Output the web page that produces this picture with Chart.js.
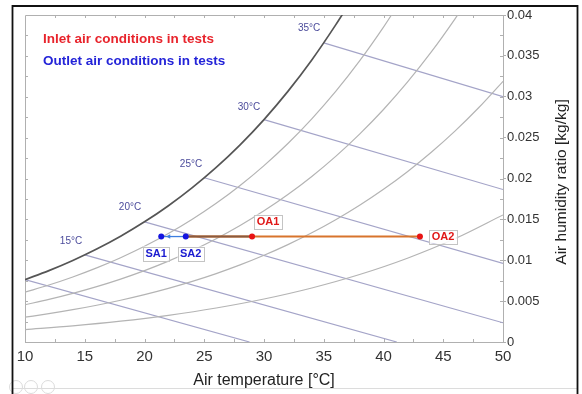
<!DOCTYPE html>
<html>
<head>
<meta charset="utf-8">
<script src="https://cdn.jsdelivr.net/npm/chart.js@4.4.1/dist/chart.umd.min.js"></script>
<style>
  html, body { margin: 0; padding: 0; background: #fff; }
  canvas { display: block; }
</style>
</head>
<body>
<canvas id="psychro" width="582" height="394"></canvas>
<script>
// axis ticks
const tempTickLabels = ['10', '15', '20', '25', '30', '35', '40', '45', '50'];
const humTickLabels = ['0', '0.005', '0.01', '0.015', '0.02', '0.025', '0.03', '0.035', '0.04'];

// relative humidity curves (saturation, 80, 60, 40, 20 %)
const satT = [10, 12, 14, 16, 18, 20, 22, 24, 26, 28, 30, 32, 34, 36, 37];
const satW = [0.007632, 0.008732, 0.009973, 0.011369, 0.012938, 0.014699, 0.016673, 0.018884,
              0.021358, 0.024122, 0.027210, 0.030655, 0.034500, 0.038789, 0.041095];
const rh80T = [10, 12, 14, 16, 18, 20, 22, 24, 26, 28, 30, 32, 34, 36, 38, 40, 41];
const rh80W = [0.006091, 0.006966, 0.007953, 0.009062, 0.010308, 0.011704, 0.013267, 0.015016, 0.016970,
               0.019149, 0.021579, 0.024285, 0.027297, 0.030649, 0.034377, 0.038512, 0.040751];
const rh60T = [10, 12, 14, 16, 18, 20, 22, 24, 26, 28, 30, 32, 34, 36, 38, 40, 42, 44, 46, 47];
const rh60W = [0.004557, 0.005210, 0.005946, 0.006772, 0.007699, 0.008737, 0.009898, 0.011194, 0.012641, 0.014252,
               0.016045, 0.018037, 0.020250, 0.022707, 0.025431, 0.028444, 0.031783, 0.035477, 0.039563, 0.041752];
const rh40T = [10, 12, 14, 16, 18, 20, 22, 24, 26, 28, 30, 32, 34, 36, 38, 40, 42, 44, 46, 48, 50];
const rh40W = [0.003031, 0.003464, 0.003951, 0.004498, 0.005111, 0.005797, 0.006564, 0.007418, 0.008371, 0.009429, 0.010605,
               0.011910, 0.013355, 0.014956, 0.016726, 0.018678, 0.020834, 0.023210, 0.025828, 0.028712, 0.031885];
const rh20T = [10, 14, 18, 22, 26, 30, 34, 38, 42, 46, 50];
const rh20W = [0.001512, 0.001969, 0.002545, 0.003265, 0.004157, 0.005258, 0.006607, 0.008252, 0.010245, 0.012651, 0.015544];

// wet-bulb lines
const wbStartT = [10, 15, 20, 25, 30, 35];
const wbStartW = [0.00763, 0.010651, 0.014699, 0.020087, 0.02721, 0.036587];
const wbEndT = [28.79, 41.11, 50, 50, 50, 50];
const wbEndW = [0, 0, 0.00235, 0.009609, 0.018649, 0.030005];
const wbLabels = ['15°C', '20°C', '25°C', '30°C', '35°C'];
const wbLabelT = [13.85, 18.79, 23.89, 28.74, 33.77];
const wbLabelW = [0.01234, 0.01649, 0.02175, 0.02874, 0.03841];

// test points
const testNames = ['SA1', 'SA2', 'OA1', 'OA2'];
const testT = [21.4, 23.45, 29.0, 43.05];
const testW = [0.0129, 0.0129, 0.0129, 0.0129];

const pts = (xs, ys) => xs.map((x, i) => ({ x, y: ys[i] }));
const FONT = "'Liberation Sans', Arial, Helvetica, sans-serif";
Chart.defaults.font.family = FONT;

const curve = (xs, ys, color, width) => ({
    data: pts(xs, ys), showLine: true, borderColor: color, borderWidth: width,
    pointRadius: 0, cubicInterpolationMode: 'monotone', fill: false
});

const wbDatasets = wbStartT.map((t, i) => ({
    data: [{ x: t, y: wbStartW[i] }, { x: wbEndT[i], y: wbEndW[i] }],
    showLine: true, borderColor: '#a4a4c8', borderWidth: 1.2, pointRadius: 0
}));

const labelBox = { SA1: [-5, 17, '#1a1ad0'], SA2: [5, 17, '#1a1ad0'], OA1: [16, -15, '#e01818'], OA2: [23, 0, '#e01818'] };

const decor = {
    id: 'decor',
    beforeDraw(chart) {
        const c = chart.ctx;
        c.save();
        c.fillStyle = '#fff';
        c.fillRect(0, 0, chart.width, chart.height);
        c.restore();
    },
    beforeDatasetsDraw(chart) {
        const { ctx: c, chartArea: a, scales: { x, y } } = chart;
        c.save();
        c.strokeStyle = '#b0b0b0';
        c.lineWidth = 1;
        c.beginPath();
        c.moveTo(a.left + 0.5, a.bottom);
        c.lineTo(a.left + 0.5, a.top + 0.5);
        c.lineTo(a.right, a.top + 0.5);
        for (let t = 12.5; t < 50; t += 2.5) {
            const px = Math.round(x.getPixelForValue(t)) + 0.5;
            c.moveTo(px, a.bottom); c.lineTo(px, a.bottom - 3);
            c.moveTo(px, a.top); c.lineTo(px, a.top + 3);
        }
        for (let k = 1; k < 16; k++) {
            const py = Math.round(y.getPixelForValue(k * 0.0025)) + 0.5;
            c.moveTo(a.left, py); c.lineTo(a.left + 3, py);
            c.moveTo(a.right, py); c.lineTo(a.right - 3, py);
        }
        c.stroke();
        c.restore();
    },
    afterDatasetsDraw(chart) {
        const { ctx: c, scales: { x, y } } = chart;
        c.save();
        // wet-bulb labels
        c.font = '10px ' + FONT;
        c.fillStyle = '#4b4b9b';
        c.textAlign = 'center';
        c.textBaseline = 'middle';
        wbLabels.forEach((s, i) => c.fillText(s, x.getPixelForValue(wbLabelT[i]), y.getPixelForValue(wbLabelW[i])));

        // arrow head on SA2 -> SA1
        const ax = x.getPixelForValue(testT[0]) + 5, ay = y.getPixelForValue(testW[0]);
        c.fillStyle = '#3c7ee0';
        c.beginPath();
        c.moveTo(ax, ay); c.lineTo(ax + 4, ay - 2.2); c.lineTo(ax + 4, ay + 2.2); c.closePath();
        c.fill();

        // point labels
        c.font = 'bold 11px ' + FONT;
        testNames.forEach((n, i) => {
            const [dx, dy, col] = labelBox[n];
            const cx = x.getPixelForValue(testT[i]) + dx, cy = y.getPixelForValue(testW[i]) + dy;
            const w = c.measureText(n).width + 5, h = 14;
            c.fillStyle = 'rgba(255,255,255,0.9)';
            c.fillRect(cx - w / 2, cy - h / 2, w, h);
            c.strokeStyle = '#c4c4c4';
            c.lineWidth = 1;
            c.strokeRect(Math.round(cx - w / 2) + 0.5, Math.round(cy - h / 2) + 0.5, Math.round(w), h);
            c.fillStyle = col;
            c.fillText(n, cx, cy + 0.5);
        });

        // legend texts
        c.textAlign = 'left';
        c.font = 'bold 13.5px ' + FONT;
        c.fillStyle = '#e8242c';
        c.fillText('Inlet air conditions in tests', 43, 39);
        c.fillStyle = '#2424d8';
        c.fillText('Outlet air conditions in tests', 43, 61);

        // y axis title
        c.translate(562, 182);
        c.rotate(-Math.PI / 2);
        c.textAlign = 'center';
        c.font = '15.5px ' + FONT;
        c.fillStyle = '#222';
        c.fillText('Air humidity ratio [kg/kg]', 0, 0);
        c.restore();

        // outer frame and toolbar icons
        c.save();
        c.strokeStyle = '#dcdcdc';
        c.lineWidth = 1;
        c.beginPath();
        c.moveTo(13, 388.5); c.lineTo(577, 388.5);
        c.stroke();
        [16, 31, 48].forEach(cx => { c.beginPath(); c.arc(cx, 387, 6.5, 0, Math.PI * 2); c.stroke(); });
        c.strokeStyle = '#111';
        c.lineWidth = 1.8;
        c.beginPath();
        c.moveTo(12.5, 394); c.lineTo(12.5, 6); c.lineTo(577.5, 6); c.lineTo(577.5, 394);
        c.stroke();
        c.restore();
    }
};

new Chart(document.getElementById('psychro'), {
    type: 'scatter',
    data: {
        datasets: [
            { data: pts(testT.slice(0, 2), testW.slice(0, 2)), pointRadius: 3, pointBackgroundColor: '#1414e0', pointBorderWidth: 0, showLine: false },
            { data: pts(testT.slice(2), testW.slice(2)), pointRadius: 3, pointBackgroundColor: '#e81414', pointBorderWidth: 0, showLine: false },
            { data: pts([testT[0], testT[1]], [testW[0], testW[1]]), showLine: true, borderColor: '#3c7ee0', borderWidth: 1.3, pointRadius: 0 },
            { data: pts([testT[1], testT[2]], [testW[1], testW[2]]), showLine: true, borderColor: '#8a5a3e', borderWidth: 2, pointRadius: 0 },
            { data: pts([testT[1], testT[3]], [testW[1], testW[3]]), showLine: true, borderColor: '#d8742c', borderWidth: 2, pointRadius: 0 },
            curve(satT, satW, '#555555', 1.7),
            curve(rh80T, rh80W, '#b4b4b4', 1.2),
            curve(rh60T, rh60W, '#b4b4b4', 1.2),
            curve(rh40T, rh40W, '#b4b4b4', 1.2),
            curve(rh20T, rh20W, '#b4b4b4', 1.2),
            ...wbDatasets
        ]
    },
    options: {
        responsive: false,
        animation: false,
        devicePixelRatio: 1,
        layout: { padding: { left: 25, top: 15, right: 0, bottom: 0 } },
        plugins: { legend: { display: false }, tooltip: { enabled: false } },
        scales: {
            x: {
                type: 'linear', min: 10, max: 50,
                afterFit: s => { s.height = 52; },
                ticks: { stepSize: 5, font: { size: 15 }, color: '#333', padding: 6, callback: (v, i) => tempTickLabels[i] },
                grid: { drawOnChartArea: false, drawTicks: false },
                border: { color: '#b0b0b0' },
                title: { display: true, text: 'Air temperature [°C]', font: { size: 16 }, color: '#222', padding: { top: 0, bottom: 4 } }
            },
            y: {
                type: 'linear', position: 'right', min: 0, max: 0.04,
                afterFit: s => { s.width = 79; },
                ticks: { stepSize: 0.005, font: { size: 13 }, color: '#333', padding: 1, callback: (v, i) => humTickLabels[i] },
                grid: { drawOnChartArea: false, drawTicks: true, tickLength: 3, color: '#b0b0b0' },
                border: { color: '#b0b0b0' }
            }
        }
    },
    plugins: [decor]
});
</script>
</body>
</html>
